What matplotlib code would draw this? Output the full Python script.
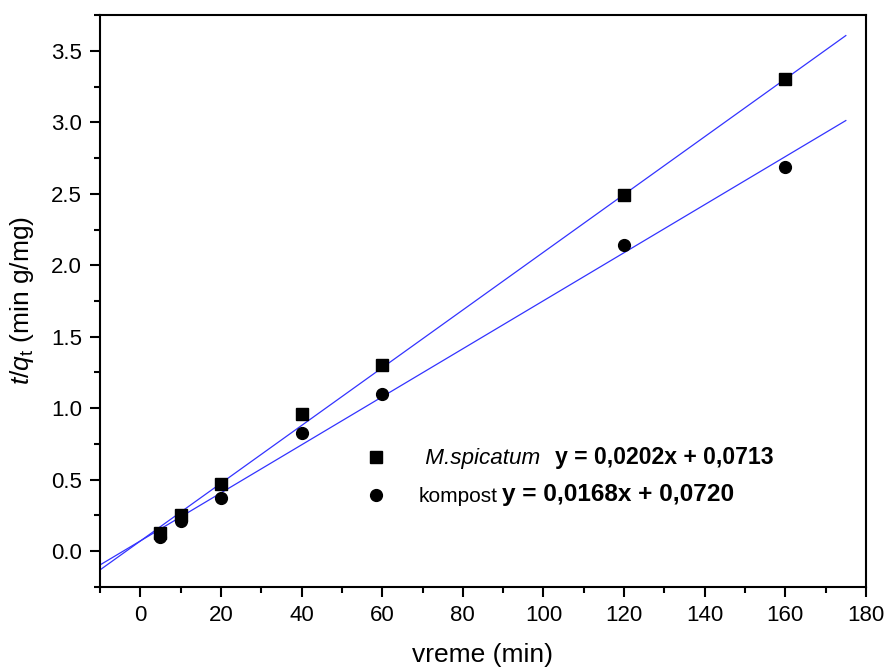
import numpy as np
import matplotlib
matplotlib.use('Agg')
import matplotlib.pyplot as plt
from matplotlib.lines import Line2D
from matplotlib.ticker import MultipleLocator

plt.rcParams['font.family'] = ['Liberation Sans', 'DejaVu Sans']
plt.rcParams['mathtext.fontset'] = 'custom'
plt.rcParams['mathtext.rm'] = 'Liberation Sans'
plt.rcParams['mathtext.it'] = 'Liberation Sans:italic'
plt.rcParams['mathtext.bf'] = 'Liberation Sans:bold'

# data
time = [5, 10, 20, 40, 60, 120, 160]
spicatum = [0.13, 0.25, 0.47, 0.96, 1.30, 2.49, 3.30]
kompost = [0.10, 0.21, 0.37, 0.83, 1.10, 2.14, 2.69]
fit_spicatum = (0.0202, 0.0713)
fit_kompost = (0.0168, 0.0720)
eq_spicatum = 'y = 0,0202x + 0,0713'
eq_kompost = 'y = 0,0168x + 0,0720'
fit_range = (-10, 175)

fig = plt.figure(figsize=(8.85, 6.68), dpi=100)
ax = fig.add_axes([0.113, 0.1213, 0.8655, 0.8562])

xf = np.linspace(fit_range[0], fit_range[1], 50)
ax.plot(xf, fit_spicatum[0] * xf + fit_spicatum[1], color='#3333ff', lw=0.9)
ax.plot(xf, fit_kompost[0] * xf + fit_kompost[1], color='#3333ff', lw=0.9)
ax.plot(time, spicatum, 's', color='black', ms=8, ls='none')
ax.plot(time, kompost, 'o', color='black', ms=8.5, ls='none')

ax.set_xlim(-10, 180)
ax.set_ylim(-0.25, 3.75)
ax.xaxis.set_major_locator(MultipleLocator(20))
ax.xaxis.set_minor_locator(MultipleLocator(10))
ax.yaxis.set_major_locator(MultipleLocator(0.5))
ax.yaxis.set_minor_locator(MultipleLocator(0.25))
ax.tick_params(which='major', direction='out', length=7, width=1.5, labelsize=16, pad=6)
ax.tick_params(which='minor', direction='out', length=4, width=1.5)
for s in ax.spines.values():
    s.set_linewidth(1.5)

ax.set_xlabel('vreme (min)', fontsize=19, labelpad=12)
ax.set_ylabel(r'$t/q_\mathrm{t}$ (min g/mg)', fontsize=19, labelpad=11)

handles = [Line2D([], [], marker='s', color='black', ls='none', ms=8),
           Line2D([], [], marker='o', color='black', ls='none', ms=8.5)]
leg = ax.legend(handles, [' M.spicatum', 'kompost'], loc='upper left',
                bbox_to_anchor=(0.322, 0.2755), frameon=False, fontsize=15,
                handlelength=1.0, handletextpad=1.55, labelspacing=0.85)
t1, t2 = leg.get_texts()
t1.set_style('italic')
t1.set_fontsize(16.2)
ax.annotate(eq_spicatum, xy=(1, 0), xycoords=t1, xytext=(11, 0), va='bottom',
            textcoords='offset points', fontsize=16.6, weight='bold', zorder=10)
ax.annotate(eq_kompost, xy=(1, 0), xycoords=t2, xytext=(3, 0), va='bottom',
            textcoords='offset points', fontsize=17.6, weight='bold', zorder=10)

fig.savefig('out.png', dpi=100)
